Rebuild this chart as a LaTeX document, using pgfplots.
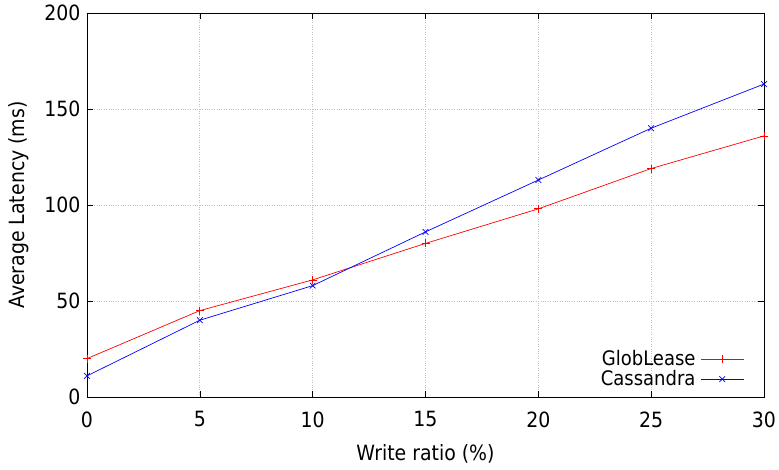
\documentclass[border=0pt]{standalone}
\usepackage{fontspec}
\setmainfont{DejaVu Sans Condensed}
\usepackage{pgfplots}
\pgfplotsset{compat=1.18}
\begin{document}
\begin{tikzpicture}
\path[use as bounding box] (-87pt,-72pt) rectangle (692pt,397pt);
\begin{axis}[
  at={(0,0)}, anchor=south west,
  scale only axis, width=677pt, height=384pt,
  xmin=0, xmax=30, ymin=0, ymax=200,
  xtick={0,5,...,30}, ytick={0,50,...,200},
  /pgf/number format/assume math mode=true,
  tick label style={font=\fontsize{21pt}{24pt}\selectfont},
  xticklabel style={yshift=-11pt},
  yticklabel style={xshift=-3pt},
  label style={font=\fontsize{21pt}{24pt}\selectfont},
  xlabel={Write ratio (\%)}, ylabel={Average Latency (ms)},
  xlabel style={yshift=-10pt},
  ylabel style={yshift=9pt},
  grid=major, major grid style={gray!50, dotted, line width=0.8pt},
  tick align=inside, tick style={black, line width=0.6pt}, major tick length=6pt,
  axis line style={line width=0.8pt},
  legend style={draw=none, fill=none, at={(rel axis cs:0.975,0.02)}, anchor=south east,
    font=\fontsize{20pt}{23pt}\selectfont, row sep=4pt, column sep=5pt,
    nodes={text height=14pt, text depth=2pt, inner sep=0pt}},
  legend cell align=right, legend plot pos=right,
  legend image code/.code={\draw[mark repeat=2,mark phase=2,#1] plot coordinates {(0cm,0cm) (0.75cm,0cm) (1.5cm,0cm)};},
]
\addplot[red, line width=0.7pt, mark=+, mark size=4pt, mark options={line width=0.7pt}] coordinates {
(0,20) (5,45) (10,61) (15,80) (20,98) (25,119) (30,136)};
\addlegendentry{GlobLease}
\addplot[blue, line width=0.7pt, mark=x, mark size=4pt, mark options={line width=0.7pt}] coordinates {
(0,11) (5,40) (10,58) (15,86) (20,113) (25,140) (30,163)};
\addlegendentry{Cassandra}
\end{axis}
\end{tikzpicture}
\end{document}
